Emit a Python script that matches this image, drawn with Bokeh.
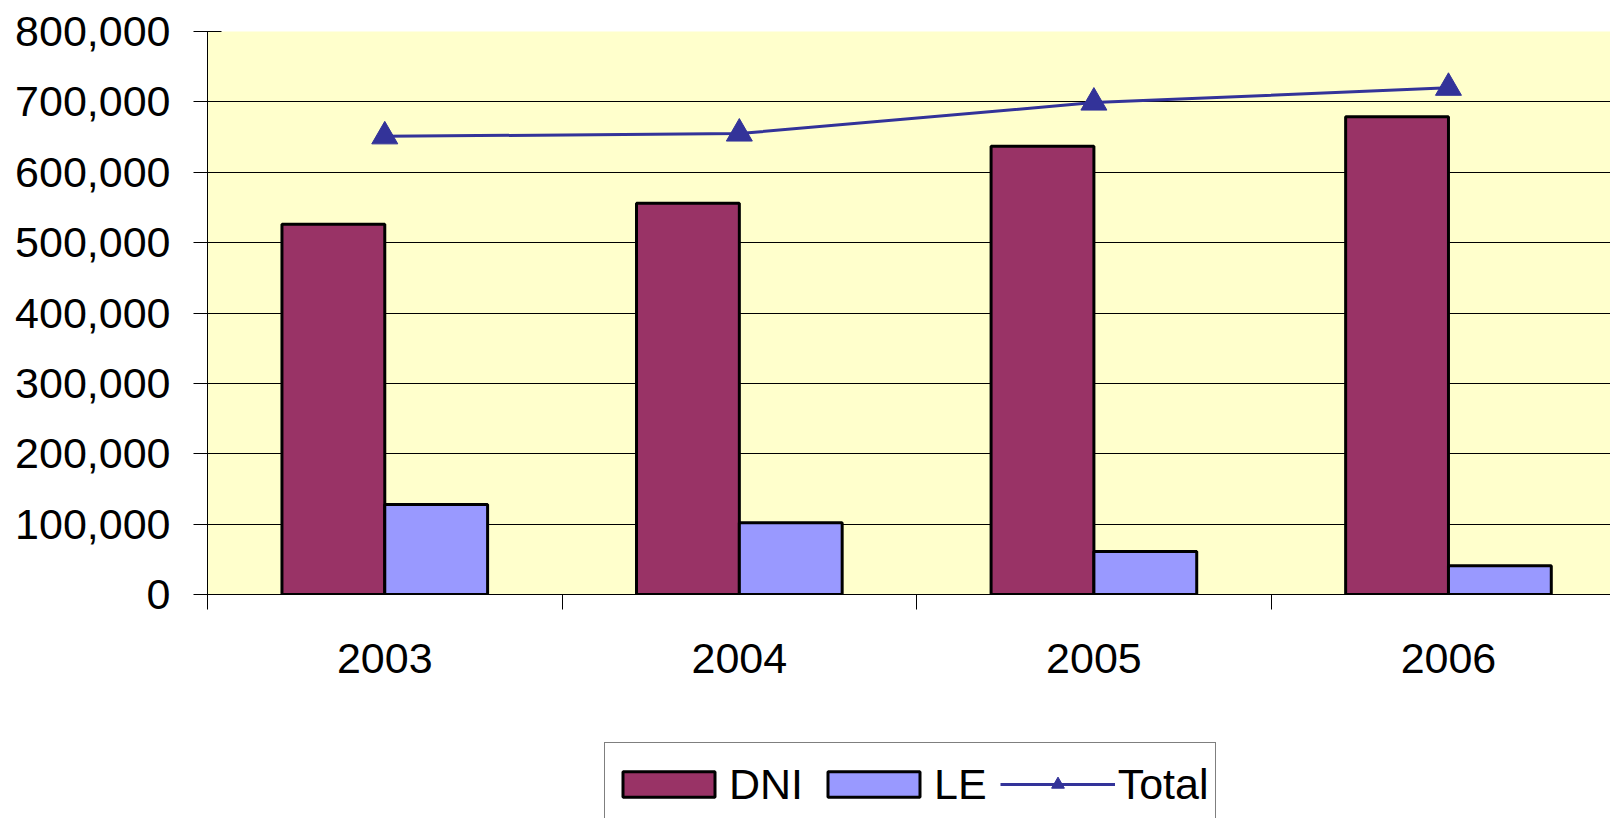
from bokeh.plotting import figure
from bokeh.models import (ColumnDataSource, Range1d, FixedTicker, NumeralTickFormatter,
                          Legend, LegendItem)
from bokeh.layouts import column
from bokeh.transform import dodge
from bokeh.embed import file_html
from bokeh.resources import INLINE

# ---- data ----
years = ["2003", "2004", "2005", "2006"]
dni = [526000, 556000, 637000, 679000]
le = [128000, 102000, 61000, 41000]
total = [651000, 655000, 699000, 720000]
y_ticks = [0, 100000, 200000, 300000, 400000, 500000, 600000, 700000, 800000]

x_centers = [i + 0.5 for i in range(len(years))]
separators = [float(i) for i in range(len(years) + 1)]
src = ColumnDataSource(dict(x=x_centers, dni=dni, le=le, total=total))

FONT = "Liberation Sans"
BW = 0.29
DNI_COL, LE_COL, TOT_COL = "#993366", "#9999FF", "#333399"

H1 = 720
p = figure(width=1610, height=H1,
           x_range=Range1d(0, 3.957), y_range=Range1d(0, 800000),
           output_backend="svg", toolbar_location=None,
           min_border_left=207, min_border_right=0,
           min_border_top=31, min_border_bottom=H1 - 31 - 563)
p.background_fill_color = "#FFFFCC"
p.border_fill_color = "white"
p.outline_line_color = None


def draw(fig, visible=True):
    a = fig.vbar(x=dodge("x", -BW / 2), top="dni", width=BW, source=src,
                 fill_color=DNI_COL, line_color="black", line_width=3, visible=visible)
    b = fig.vbar(x=dodge("x", BW / 2), top="le", width=BW, source=src,
                 fill_color=LE_COL, line_color="black", line_width=3, visible=visible)
    c = fig.line("x", "total", source=src, line_color=TOT_COL, line_width=3,
                 visible=visible)
    d = fig.scatter("x", "total", source=src, marker="triangle", size=26,
                    fill_color=TOT_COL, line_color=TOT_COL, visible=visible)
    return a, b, c, d


draw(p)

# grid
p.xgrid.visible = False
p.ygrid.ticker = FixedTicker(ticks=y_ticks)
p.ygrid.grid_line_color = "black"
p.ygrid.grid_line_width = 1

# y axis
ya = p.yaxis[0]
ya.ticker = FixedTicker(ticks=y_ticks)
ya.formatter = NumeralTickFormatter(format="0,0")
ya.major_tick_in = 14
ya.major_tick_out = 14
ya.minor_tick_in = 0
ya.minor_tick_out = 0
ya.major_tick_line_color = "black"
ya.axis_line_color = "black"
ya.major_label_standoff = 23
ya.major_label_text_font = FONT
ya.major_label_text_font_size = "43px"
ya.major_label_text_color = "black"

# x axis
xa = p.xaxis[0]
xa.ticker = FixedTicker(ticks=x_centers, minor_ticks=separators)
xa.major_label_overrides = {xc: y for xc, y in zip(x_centers, years)}
xa.major_tick_in = 0
xa.major_tick_out = 0
xa.minor_tick_in = 0
xa.minor_tick_out = 15
xa.minor_tick_line_color = "black"
xa.axis_line_color = "black"
xa.major_label_standoff = 34
xa.major_label_text_font = FONT
xa.major_label_text_font_size = "43px"
xa.major_label_text_color = "black"

# ---- legend strip (same series as hidden renderers; only the legend shows) ----
H2 = 818 - H1
q = figure(width=1610, height=H2, x_range=Range1d(0, 1), y_range=Range1d(0, 1),
           output_backend="svg", toolbar_location=None,
           x_axis_location=None, y_axis_location=None,
           min_border_left=0, min_border_right=0, min_border_top=0, min_border_bottom=0)
q.grid.visible = False
q.outline_line_color = None
q.background_fill_color = "white"
q.border_fill_color = "white"
l_dni, l_le, l_line, l_pts = draw(q, visible=False)

legend = Legend(
    items=[LegendItem(label="DNI", renderers=[l_dni]),
           LegendItem(label="LE", renderers=[l_le]),
           LegendItem(label="Total", renderers=[l_line, l_pts])],
    orientation="horizontal", location=(397, -8),
    glyph_width=115, glyph_height=32, label_standoff=3, spacing=13,
    padding=6, margin=0, label_height=70,
    border_line_color="black", border_line_width=1,
    background_fill_color="white", background_fill_alpha=1,
    label_text_font=FONT, label_text_font_size="43px",
    label_text_color="black", click_policy="none")
q.add_layout(legend)

layout = column(p, q, spacing=0)
open("out.html", "w").write(file_html(layout, INLINE))
